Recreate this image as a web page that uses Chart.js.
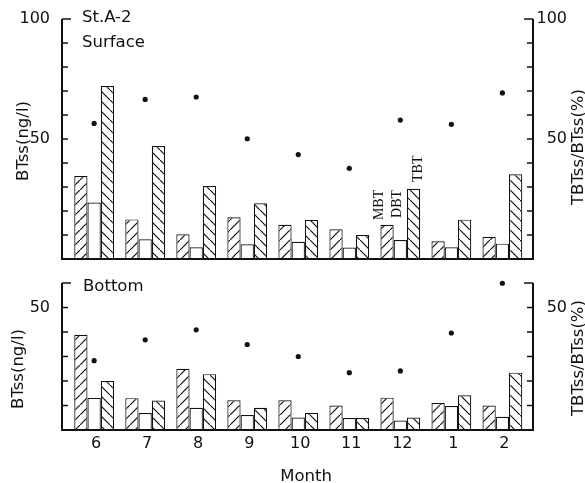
<!DOCTYPE html>
<html>
<head>
<meta charset="utf-8">
<script src="https://cdn.jsdelivr.net/npm/chart.js@4.4.1/dist/chart.umd.min.js"></script>
<style>
  html, body { margin: 0; padding: 0; background: #fff; }
  #wrap { position: relative; width: 585px; height: 483px; overflow: hidden; }
  canvas { position: absolute; left: 0; }
  #top { top: 0; }
  #bot { top: 265px; }
</style>
</head>
<body>
<div id="wrap">
  <canvas id="top" width="585" height="265"></canvas>
  <canvas id="bot" width="585" height="218"></canvas>
</div>
<script>
// Meses (eixo x)
const MONTHS = ['6', '7', '8', '9', '10', '11', '12', '1', '2'];

// Superficie (ng/l) e TBT/BT (%)
const SURF_MBT = [34.6, 16.5, 10.3, 17.4, 14.3, 12.4, 14.3, 7.4, 9.2];
const SURF_DBT = [23.5, 8.2, 4.9, 6.1, 7.2, 4.8, 7.9, 4.9, 6.4];
const SURF_TBT = [72.1, 47.1, 30.4, 23.2, 16.3, 10.0, 29.3, 16.4, 35.3];
const SURF_PCT = [56.5, 66.5, 67.5, 50.1, 43.5, 37.8, 57.9, 56.1, 69.2];

// Fundo (ng/l) e TBT/BT (%)
const BOT_MBT = [38.9, 13.0, 25.0, 12.1, 12.1, 10.0, 13.2, 11.0, 10.0];
const BOT_DBT = [13.1, 6.9, 9.1, 6.1, 5.1, 4.9, 3.9, 9.8, 5.4];
const BOT_TBT = [20.0, 12.0, 22.8, 9.1, 6.9, 4.9, 5.1, 14.2, 23.4];
const BOT_PCT = [28.3, 36.8, 40.9, 34.9, 30.0, 23.4, 24.1, 39.6, 59.9];

const INK = '#111';
const FONT = 'DejaVu Sans';

// hachura diagonal para as barras
function hachura(ctx, dir) {
    const c = document.createElement('canvas');
    c.width = 10; c.height = 10;
    const g = c.getContext('2d');
    g.fillStyle = '#fff';
    g.fillRect(0, 0, 10, 10);
    g.strokeStyle = INK;
    g.lineWidth = 1.2;
    g.beginPath();
    if (dir === '/') { g.moveTo(-1, 11); g.lineTo(11, -1); }
    else { g.moveTo(-1, -1); g.lineTo(11, 11); }
    g.stroke();
    return ctx.createPattern(c, 'repeat');
}

function pontos(vals) {
    return vals.map((v, i) => ({ x: i, y: v }));
}

function textoVertical(ctx, s, x, y) {
    ctx.save();
    ctx.translate(x, y);
    ctx.rotate(-Math.PI / 2);
    ctx.textAlign = 'center';
    ctx.textBaseline = 'middle';
    ctx.fillText(s, 0, 0);
    ctx.restore();
}

// eixos com ticks para dentro + textos soltos
const moldura = {
    id: 'moldura',
    afterDraw(chart, args, opts) {
        const { ctx, chartArea: a, scales } = chart;
        const yL = scales.y;
        ctx.save();
        ctx.strokeStyle = INK;
        ctx.lineWidth = 2;
        ctx.beginPath();
        ctx.moveTo(a.left, a.top);
        ctx.lineTo(a.left, a.bottom);
        ctx.lineTo(a.right, a.bottom);
        ctx.lineTo(a.right, a.top);
        ctx.stroke();

        ctx.lineWidth = 1.6;
        for (let v = 10; v <= yL.max; v += 10) {
            const y = yL.getPixelForValue(v);
            const len = v === yL.max ? 9 : 6;
            ctx.beginPath();
            ctx.moveTo(a.left, y); ctx.lineTo(a.left + len, y);
            ctx.moveTo(a.right, y); ctx.lineTo(a.right - len, y);
            ctx.stroke();
        }

        ctx.fillStyle = INK;
        ctx.font = '16.5px "' + FONT + '"';
        ctx.textBaseline = 'middle';
        ctx.textAlign = 'left';
        (opts.notas || []).forEach(n => ctx.fillText(n.t, n.x, n.y));
        (opts.verticais || []).forEach(n => textoVertical(ctx, n.t, n.x, n.y));
        if (opts.rodape) {
            ctx.textAlign = 'center';
            ctx.fillText(opts.rodape.t, opts.rodape.x, opts.rodape.y);
        }

        // MBT / DBT / TBT sobre o mes 12
        if (opts.legendaBarras) {
            const cx = scales.x.getPixelForValue(6);
            ctx.font = '14px "Liberation Serif"';
            opts.legendaBarras.forEach(n => {
                ctx.save();
                ctx.translate(cx + n.dx, yL.getPixelForValue(n.v));
                ctx.rotate(-Math.PI / 2);
                ctx.textAlign = 'left';
                ctx.textBaseline = 'middle';
                ctx.fillText(n.t, 0, 0);
                ctx.restore();
            });
        }
        ctx.restore();
    }
};

function criarPainel(canvas, cfg) {
    const ctx = canvas.getContext('2d');
    const tickFont = { family: FONT, size: 16 };
    const rotulo = v => (cfg.rotulos.includes(v) ? String(v) : '');
    return new Chart(ctx, {
        type: 'bar',
        data: {
            datasets: [
                {
                    type: 'line',
                    label: 'TBT/BT',
                    data: pontos(cfg.pct),
                    yAxisID: 'y2',
                    showLine: false,
                    clip: false,
                    pointRadius: 2.6,
                    pointBackgroundColor: INK,
                    pointBorderWidth: 0
                },
                {
                    label: 'MBT',
                    data: pontos(cfg.mbt),
                    backgroundColor: hachura(ctx, '/'),
                    borderColor: INK,
                    borderWidth: 1.2
                },
                {
                    label: 'DBT',
                    data: pontos(cfg.dbt),
                    backgroundColor: '#fff',
                    borderColor: INK,
                    borderWidth: 1.2
                },
                {
                    label: 'TBT',
                    data: pontos(cfg.tbt),
                    backgroundColor: hachura(ctx, '\\'),
                    borderColor: INK,
                    borderWidth: 1.2
                }
            ]
        },
        options: {
            responsive: false,
            animation: false,
            devicePixelRatio: 1,
            layout: { padding: cfg.padding },
            datasets: {
                bar: { categoryPercentage: 0.78, barPercentage: 1.0 }
            },
            plugins: {
                legend: { display: false },
                tooltip: { enabled: false },
                moldura: cfg.textos
            },
            scales: {
                x: {
                    type: 'linear',
                    min: -0.63,
                    max: 8.6,
                    offset: false,
                    display: cfg.mostraMeses,
                    grid: { display: false },
                    border: { display: false },
                    afterFit: s => { s.height = cfg.mostraMeses ? 53 : 0; },
                    ticks: {
                        stepSize: 1,
                        autoSkip: false,
                        includeBounds: false,
                        padding: -4,
                        labelOffset: 2,
                        color: INK,
                        font: tickFont,
                        callback: v => (Number.isInteger(v) ? MONTHS[v] : '')
                    }
                },
                y: {
                    position: 'left',
                    min: 0,
                    max: cfg.max,
                    grid: { display: false },
                    border: { display: false },
                    afterFit: s => { s.width = 62; s.paddingTop = 0; s.paddingBottom = 0; },
                    ticks: {
                        stepSize: 10,
                        autoSkip: false,
                        padding: 4,
                        color: INK,
                        font: tickFont,
                        callback: rotulo
                    }
                },
                y2: {
                    position: 'right',
                    min: 0,
                    max: cfg.max,
                    grid: { display: false },
                    border: { display: false },
                    afterFit: s => { s.width = 34; s.paddingTop = 0; s.paddingBottom = 0; },
                    ticks: {
                        stepSize: 10,
                        autoSkip: false,
                        crossAlign: 'far',
                        color: INK,
                        font: tickFont,
                        callback: rotulo
                    }
                }
            }
        },
        plugins: [moldura]
    });
}

criarPainel(document.getElementById('top'), {
    mbt: SURF_MBT, dbt: SURF_DBT, tbt: SURF_TBT, pct: SURF_PCT,
    max: 100,
    rotulos: [50, 100],
    mostraMeses: false,
    padding: { top: 19, bottom: 6, left: 0, right: 18 },
    textos: {
        notas: [
            { t: 'St.A-2', x: 82, y: 18 },
            { t: 'Surface', x: 82, y: 43 }
        ],
        verticais: [
            { t: 'BTss(ng/l)', x: 24, y: 141 },
            { t: 'TBTss/BTss(%)', x: 579, y: 147 }
        ],
        legendaBarras: [
            { t: 'MBT', dx: -21, v: 16.2 },
            { t: 'DBT', dx: -3, v: 17.1 },
            { t: 'TBT', dx: 18, v: 32.1 }
        ]
    }
});

criarPainel(document.getElementById('bot'), {
    mbt: BOT_MBT, dbt: BOT_DBT, tbt: BOT_TBT, pct: BOT_PCT,
    max: 60,
    rotulos: [50],
    mostraMeses: true,
    padding: { top: 18, bottom: 0, left: 0, right: 18 },
    textos: {
        notas: [
            { t: 'Bottom', x: 83, y: 22 }
        ],
        verticais: [
            { t: 'BTss(ng/l)', x: 19, y: 104 },
            { t: 'TBTss/BTss(%)', x: 579, y: 93 }
        ],
        rodape: { t: 'Month', x: 306, y: 212 }
    }
});
</script>
</body>
</html>
